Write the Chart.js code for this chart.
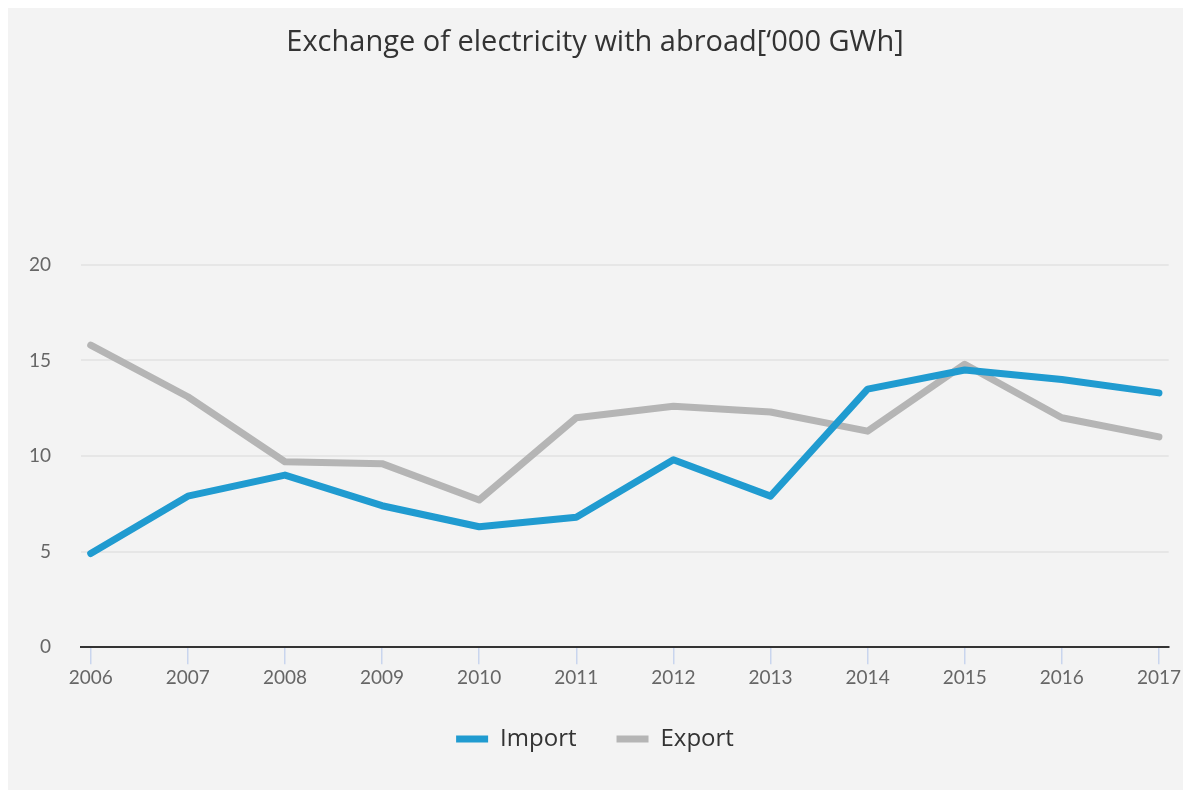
<!DOCTYPE html>
<html>
<head>
<meta charset="utf-8">
<script src="https://cdn.jsdelivr.net/npm/chart.js@4.4.1/dist/chart.umd.min.js"></script>
<style>
  html, body { margin: 0; padding: 0; background: #ffffff; overflow: hidden; }
  #wrap { position: absolute; left: 8px; top: 8px; width: 1175px; height: 782px; background: #f3f3f3; }
</style>
</head>
<body>
<div id="wrap"><canvas id="chart"></canvas></div>
<script>
// data
const years = [2006, 2007, 2008, 2009, 2010, 2011, 2012, 2013, 2014, 2015, 2016, 2017];
const importValues = [4.9, 7.9, 9.0, 7.4, 6.3, 6.8, 9.8, 7.9, 13.5, 14.5, 14.0, 13.3];
const exportValues = [15.8, 13.1, 9.7, 9.6, 7.7, 12.0, 12.6, 12.3, 11.3, 14.8, 12.0, 11.0];
const yTicks = [0, 5, 10, 15, 20];

const toPoints = (vals) => vals.map((v, i) => ({ x: years[i], y: v }));

const chart = new Chart('chart', {
    type: 'line',
    data: {
        datasets: [
            {
                label: 'Import',
                data: toPoints(importValues),
                borderColor: '#209bd0',
                backgroundColor: '#209bd0',
                borderWidth: 7,
            },
            {
                label: 'Export',
                data: toPoints(exportValues),
                borderColor: '#b5b5b5',
                backgroundColor: '#b5b5b5',
                borderWidth: 7,
            },
        ]
    },
    options: {
        responsive: true,
        maintainAspectRatio: false,
        animation: false,
        layout: {
            padding: { left: 0, right: 1, top: 10, bottom: 29 }
        },
        elements: {
            point: { radius: 0, hoverRadius: 0 },
            line: {
                tension: 0,
                borderCapStyle: 'round',
                borderJoinStyle: 'round',
            }
        },
        plugins: {
            title: {
                display: true,
                text: "Exchange of electricity with abroad[\u2018000 GWh]",
                color: '#333333',
                font: { family: 'Open Sans', size: 29, weight: 'normal' },
                padding: { top: 7, bottom: 205 }
            },
            legend: {
                position: 'bottom',
                labels: {
                    color: '#333333',
                    font: { family: 'Open Sans', size: 24 },
                    boxWidth: 32,
                    boxHeight: 7,
                    padding: 40,
                    generateLabels: (c) => Chart.defaults.plugins.legend.labels.generateLabels(c)
                        .map(l => ({ ...l, lineWidth: 0 }))
                }
            },
            tooltip: { enabled: false }
        },
        scales: {
            x: {
                type: 'linear',
                min: years[0] - 0.1,
                max: years[years.length - 1] + 0.1,
                afterBuildTicks: (axis) => { axis.ticks = years.map(v => ({ value: v })); },
                afterFit: (axis) => { axis.height -= 4; },
                ticks: {
                    color: '#666666',
                    font: { family: 'Lato', size: 19 },
                    padding: 2,
                    maxRotation: 0,
                    autoSkip: false,
                    callback: (v) => String(v)
                },
                grid: {
                    drawOnChartArea: false,
                    drawTicks: true,
                    tickLength: 17,
                    color: '#c9d5ee',
                    lineWidth: 1.5
                },
                border: { display: true, color: '#333333', width: 2 }
            },
            y: {
                min: 0,
                max: 20,
                afterBuildTicks: (axis) => { axis.ticks = yTicks.map(v => ({ value: v })); },
                afterFit: (axis) => { axis.width = 73; },
                ticks: {
                    color: '#666666',
                    font: { family: 'Lato', size: 19 },
                    padding: 30,
                },
                grid: {
                    color: '#e6e6e6',
                    lineWidth: 2,
                    drawTicks: false
                },
                border: { display: false }
            }
        }
    }
});
</script>
</body>
</html>
